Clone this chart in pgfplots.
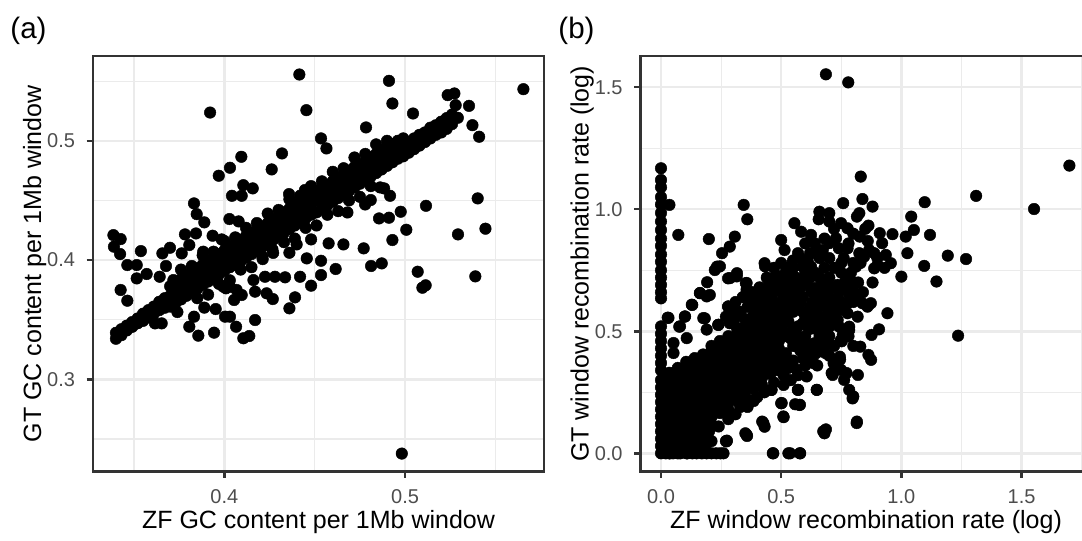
\documentclass[border=0pt]{standalone}
\usepackage{fontspec}
\setmainfont{Liberation Sans}
\usepackage{pgfplots}
\pgfplotsset{compat=1.18}
\definecolor{gridcol}{HTML}{EBEBEB}
\definecolor{bordercol}{HTML}{333333}
\definecolor{ticklab}{HTML}{4D4D4D}
\pgfplotsset{gg/.style={
  scale only axis, width=198.44pt, height=182.9pt, anchor=south west,
  axis line style={draw=bordercol, line width=1.07pt},
  tick style={draw=bordercol, line width=1.07pt},
  major tick length=2.75pt, minor tick length=0pt, tick align=outside,
  xtick pos=bottom, ytick pos=left,
  grid=both,
  major grid style={draw=gridcol, line width=1.07pt},
  minor grid style={draw=gridcol, line width=0.53pt},
  ticklabel style={font=\fontsize{8.8}{10}\selectfont, text=ticklab},
  xticklabel style={anchor=base, inner sep=0pt, yshift=-11.4pt},
  yticklabel style={anchor=east, inner sep=0pt, xshift=-4.95pt},
}}
\tikzset{dots/.style={only marks, mark=*, mark size=2.55pt, black, mark options={draw=black, fill=black, line width=0.2pt}}}
\begin{document}
\begin{tikzpicture}
% ---------------- Panel (a) ----------------
\begin{axis}[gg, at={(40.92pt,-207.55pt)},
  xmin=0.3273, xmax=0.5769, ymin=0.2225, ymax=0.5711,
  xtick={0.4,0.5}, xticklabels={0.4,0.5},
  ytick={0.3,0.4,0.5}, yticklabels={0.3,0.4,0.5},
  minor xtick={0.35,0.45,0.55}, minor ytick={0.25,0.35,0.45,0.55}]
\addplot[dots] coordinates {
(0.4415,0.5556) (0.4911,0.5503) (0.5655,0.5433) (0.3921,0.5237) (0.4454,0.5257) (0.4930,0.5313)
(0.5236,0.5383) (0.5273,0.5397) (0.5280,0.5299) (0.5354,0.5293) (0.5292,0.5193) (0.5373,0.5131)
(0.5410,0.5034) (0.5044,0.5229) (0.4784,0.5112) (0.4535,0.5020) (0.4565,0.4936) (0.4319,0.4894)
(0.4094,0.4866) (0.4031,0.4774) (0.3969,0.4707) (0.4262,0.4760) (0.4105,0.4628) (0.4157,0.4601)
(0.4042,0.4539) (0.4096,0.4539) (0.3832,0.4475) (0.3847,0.4385) (0.3889,0.4316) (0.4028,0.4344)
(0.4079,0.4324) (0.4358,0.4553) (0.4446,0.4587) (0.5402,0.4517) (0.5116,0.4455) (0.5445,0.4263)
(0.5293,0.4215) (0.4976,0.4405) (0.5007,0.4254) (0.4930,0.4168) (0.4856,0.4349) (0.4911,0.4355)
(0.4779,0.4466) (0.4810,0.4503) (0.4862,0.4609) (0.4917,0.4539) (0.4884,0.4601) (0.4681,0.4399)
(0.4771,0.4098) (0.4812,0.3950) (0.4871,0.3972) (0.5070,0.3902) (0.5096,0.3768) (0.5114,0.3788)
(0.5389,0.3863) (0.4982,0.2377) (0.4659,0.4131) (0.4577,0.4140) (0.4616,0.3925) (0.4535,0.3994)
(0.4535,0.3874) (0.4480,0.4173) (0.4456,0.4014) (0.4400,0.4131) (0.4360,0.4061) (0.4480,0.3785)
(0.4419,0.3860) (0.4391,0.3687) (0.4360,0.3595) (0.4268,0.3673) (0.4234,0.3721) (0.4170,0.3735)
(0.4336,0.3855) (0.4280,0.3860) (0.4225,0.3860) (0.4170,0.3497) (0.4138,0.3363) (0.4105,0.3344)
(0.4065,0.3441) (0.4031,0.3525) (0.4004,0.3525) (0.3943,0.3391) (0.3856,0.3366) (0.3806,0.3441)
(0.3832,0.3525) (0.3889,0.3601) (0.3952,0.3589) (0.4054,0.3665) (0.4096,0.3707) (0.3740,0.3564)
(0.3653,0.3469) (0.3616,0.3469) (0.3426,0.3749) (0.3463,0.3659) (0.3386,0.4209) (0.3426,0.4176)
(0.3389,0.4112) (0.3423,0.4050) (0.3463,0.3958) (0.3515,0.3958) (0.3515,0.3846) (0.3570,0.3883)
(0.3538,0.4075) (0.3657,0.4056) (0.3699,0.4103) (0.3764,0.4056) (0.3806,0.4126) (0.3782,0.4215)
(0.3843,0.4223) (0.3883,0.4070) (0.3935,0.4204) (0.3985,0.4173) (0.3677,0.3950) (0.3642,0.3860)
(0.3718,0.3832) (0.3760,0.3754) (0.3892,0.3860) (0.3958,0.3832) (0.3994,0.3777) (0.4009,0.3763)
(0.4031,0.3777) (0.4068,0.3749) (0.4212,0.4008) (0.4266,0.4089) (0.4161,0.3832) (0.4013,0.3986)
(0.340,0.334) (0.340,0.339) (0.343,0.337) (0.343,0.342) (0.346,0.341) (0.346,0.345)
(0.349,0.344) (0.349,0.348) (0.352,0.347) (0.352,0.351) (0.355,0.349) (0.355,0.355)
(0.358,0.352) (0.358,0.358) (0.361,0.355) (0.361,0.361) (0.364,0.358) (0.364,0.365)
(0.367,0.360) (0.367,0.368)
(0.370,0.361) (0.370,0.370) (0.370,0.378) (0.373,0.364) (0.373,0.372) (0.373,0.381)
(0.376,0.367) (0.376,0.375) (0.376,0.384) (0.379,0.370) (0.379,0.378) (0.379,0.387)
(0.382,0.373) (0.382,0.381) (0.382,0.390) (0.385,0.376) (0.385,0.384) (0.385,0.393)
(0.388,0.379) (0.388,0.387) (0.388,0.396) (0.391,0.382) (0.391,0.390) (0.391,0.399)
(0.394,0.385) (0.394,0.393) (0.394,0.402) (0.397,0.388) (0.397,0.396) (0.397,0.405)
(0.400,0.391) (0.400,0.399) (0.400,0.408) (0.403,0.394) (0.403,0.402) (0.403,0.411)
(0.406,0.396) (0.406,0.405) (0.406,0.414) (0.409,0.399) (0.409,0.408) (0.409,0.417)
(0.412,0.402) (0.412,0.411) (0.412,0.420) (0.415,0.405) (0.415,0.414) (0.415,0.423)
(0.418,0.408) (0.418,0.417) (0.418,0.425) (0.421,0.411) (0.421,0.420) (0.421,0.428)
(0.424,0.414) (0.424,0.423) (0.424,0.431) (0.427,0.417) (0.427,0.426) (0.427,0.434)
(0.430,0.420) (0.430,0.429) (0.430,0.437) (0.433,0.423) (0.433,0.432) (0.433,0.440)
(0.436,0.426) (0.436,0.435) (0.436,0.443) (0.439,0.429) (0.439,0.438) (0.439,0.446)
(0.442,0.432) (0.442,0.441) (0.442,0.449) (0.445,0.435) (0.445,0.444) (0.445,0.452)
(0.448,0.438) (0.448,0.447) (0.448,0.455) (0.451,0.440) (0.451,0.450) (0.451,0.458)
(0.454,0.443) (0.454,0.452) (0.454,0.461) (0.457,0.446) (0.457,0.455) (0.457,0.463)
(0.460,0.449) (0.460,0.458) (0.460,0.466) (0.463,0.452) (0.463,0.461) (0.463,0.469)
(0.466,0.455) (0.466,0.464) (0.466,0.472) (0.469,0.458) (0.469,0.467) (0.469,0.475)
(0.472,0.461) (0.472,0.470) (0.472,0.478) (0.475,0.464) (0.475,0.473) (0.475,0.480)
(0.478,0.467) (0.478,0.476) (0.478,0.483) (0.481,0.470) (0.481,0.478) (0.481,0.486)
(0.484,0.473) (0.484,0.481) (0.484,0.489) (0.487,0.476) (0.487,0.484) (0.487,0.492)
(0.490,0.479) (0.490,0.487) (0.490,0.495) (0.493,0.482) (0.493,0.490) (0.493,0.497)
(0.496,0.485) (0.496,0.492) (0.496,0.500) (0.499,0.487) (0.499,0.495) (0.499,0.502)
(0.502,0.490) (0.502,0.499) (0.505,0.493) (0.505,0.502) (0.508,0.496) (0.508,0.505)
(0.511,0.499) (0.511,0.507) (0.514,0.502) (0.514,0.511) (0.517,0.505) (0.517,0.513)
(0.520,0.507) (0.520,0.516) (0.523,0.510) (0.523,0.519) (0.526,0.514) (0.526,0.522)
(0.376,0.392) (0.382,0.395) (0.388,0.404) (0.394,0.407) (0.400,0.416) (0.406,0.419)
(0.412,0.427) (0.418,0.431) (0.424,0.439) (0.430,0.442) (0.436,0.451) (0.442,0.454)
(0.448,0.462) (0.454,0.466) (0.460,0.474) (0.466,0.477) (0.472,0.486) (0.478,0.489)
(0.484,0.497) (0.490,0.500)
(0.385,0.368) (0.391,0.371) (0.397,0.380) (0.403,0.383) (0.409,0.392) (0.415,0.394)
(0.421,0.403) (0.427,0.406) (0.433,0.415) (0.439,0.418) (0.445,0.427) (0.451,0.429)
(0.457,0.438) (0.463,0.441) (0.469,0.450) (0.475,0.453) (0.481,0.462)
};
\draw[bordercol, line width=1.07pt] (rel axis cs:0,0) rectangle (rel axis cs:1,1);
\end{axis}
% ---------------- Panel (b) ----------------
\begin{axis}[gg, at={(281.82pt,-207.55pt)},
  xmin=-0.0853, xmax=1.791, ymin=-0.0754, ymax=1.628,
  xtick={0,0.5,1,1.5}, xticklabels={0.0,0.5,1.0,1.5},
  ytick={0,0.5,1,1.5}, yticklabels={0.0,0.5,1.0,1.5},
  minor xtick={0.25,0.75,1.25,1.75}, minor ytick={0.25,0.75,1.25}]
\addplot[dots] coordinates {
(0.686,1.553) (0.779,1.520) (1.699,1.179) (0.831,1.134) (1.311,1.055) (1.552,1.001) (1.097,1.029)
(1.236,0.482) (1.269,0.796) (1.193,0.810) (1.146,0.704) (1.095,0.768) (1.000,0.724) (1.119,0.895)
(1.041,0.970) (1.052,0.915) (1.018,0.888) (1.025,0.820) (0.963,0.898) (0.942,0.574) (0.907,0.508)
(0.876,0.485) (0.863,0.403) (0.874,0.383) (0.829,0.437) (0.815,0.130) (0.680,0.082) (0.686,0.098)
(0.819,0.321) (0.797,0.225) (0.783,0.260) (0.762,0.301) (0.749,0.342) (0.714,0.321) (0.744,0.396)
(0.747,0.462) (0.718,0.369) (0.465,0.000) (0.530,0.000) (0.579,0.000) (0.510,0.148) (0.500,0.205)
(0.576,0.198) (0.558,0.201) (0.569,0.260) (0.648,0.260) (0.593,0.389) (0.459,0.260) (0.421,0.130)
(0.431,0.109) (0.351,0.082) (0.358,0.071) (0.385,0.214) (0.274,0.052) (0.186,0.034) (0.169,0.116)
(0.203,0.157) (0.247,0.000) (0.210,0.000) (0.148,0.000) (0.106,0.000) (0.037,0.000)
(0,1.168) (0,1.120) (0,1.090) (0,1.050) (0,1.020) (0,0.985) (0,0.950) (0,0.915) (0,0.880) (0,0.850)
(0,0.815) (0,0.785) (0,0.750) (0,0.720) (0,0.690) (0,0.660) (0,0.635) (0,0.520) (0,0.490) (0,0.460)
(0,0.430) (0,0.400) (0,0.370) (0,0.340) (0.035,1.018) (0.072,0.895) (0.028,0.556)
(0.344,1.018) (0.359,0.959) (0.199,0.878) (0.307,0.888) (0.286,0.847) (0.254,0.820) (0.233,0.765)
(0.224,0.751) (0.192,0.701) (0.203,0.649) (0.162,0.656) (0.130,0.608) (0.099,0.560) (0.076,0.519)
(0.182,0.553) (0.238,0.526) (0.279,0.601) (0.316,0.738) (0.279,0.717) (0.353,0.697) (0.389,0.645)
(0.431,0.779) (0.500,0.874) (0.514,0.833) (0.549,0.790) (0.555,0.943) (0.583,0.908) (0.624,0.895)
(0.659,0.990) (0.700,0.984) (0.656,0.959) (0.758,1.025) (0.838,1.042) (0.880,1.011) (0.815,0.970)
(0.825,0.984) (0.749,0.943) (0.776,0.922) (0.863,0.933) (0.827,0.888) (0.910,0.902) (0.920,0.861)
(0.887,0.820) (0.935,0.813) (0.956,0.779) (0.901,0.772) (0.887,0.758) (0.866,0.833) (0.845,0.806)
(0.811,0.765) (0.825,0.820) (0.776,0.840) (0.728,0.881) (0.700,0.861) (0.673,0.833) (0.642,0.820)
(0.624,0.765) (0.590,0.765) (0.597,0.704) (0.645,0.676) (0.686,0.676) (0.735,0.690) (0.769,0.710)
(0.797,0.676) (0.811,0.642) (0.838,0.615) (0.873,0.615) (0.859,0.601) (0.776,0.615) (0.742,0.628)
(0.707,0.635) (0.673,0.628) (0.659,0.669) (0.624,0.669) (0.700,0.560) (0.735,0.546) (0.776,0.574)
(0.700,0.519) (0.783,0.519) (0.624,0.560) (0.521,0.751) (0.541,0.710) (0.569,0.615) (0.500,0.622)
(0.465,0.669) (0.441,0.642) (0.480,0.594) (0.521,0.560) (0.549,0.505) (0.507,0.478) (0.562,0.478)
(0.590,0.533) (0.659,0.492) (0.638,0.451) (0.680,0.464) (0.645,0.410) (0.597,0.430) (0.756,0.485)
(0.783,0.505) (0.818,0.560) (0.700,0.451) (0.403,0.492) (0.355,0.519) (0.314,0.560) (0.286,0.533)
(0.523,0.493) (0.564,0.438) (0.592,0.390) (0.634,0.370) (0.606,0.315) (0.564,0.343) (0.523,0.370)
(0.661,0.452) (0.684,0.411) (0.634,0.513) (0.627,0.554) (0.689,0.602) (0.634,0.677) (0.689,0.684)
(0.745,0.684) (0.786,0.643) (0.745,0.588) (0.731,0.548) (0.752,0.459) (0.745,0.384) (0.772,0.329)
(0.800,0.233) (0.814,0.124) (0.710,0.329) (0.648,0.260) (0.571,0.260) (0.502,0.206) (0.509,0.151)
(0.460,0.260) (0.384,0.219) (0.426,0.124) (0.578,0.199) (0.273,0.049) (0.356,0.076) (0.675,0.090)
(0.467,0.000) (0.537,0.000) (0.578,0.000) (0.370,0.630) (0.391,0.507) (0.495,0.725) (0.537,0.766)
(0.280,0.602) (0.239,0.527) (0.176,0.554) (0.128,0.609) (0.100,0.561) (0.031,0.555) (0.079,0.520)
(0.052,0.452) (0.052,0.411) (0.107,0.472) (0.190,0.507) (0.190,0.643) (0.162,0.657) (0.245,0.766)
(0.287,0.718) (0.315,0.725) (0.356,0.698) (0.356,0.671) (0.433,0.766) (0.391,0.643)
(0.55,0.70) (0.58,0.68) (0.60,0.74) (0.62,0.72) (0.66,0.72) (0.70,0.72) (0.72,0.76) (0.75,0.74)
(0.52,0.66) (0.55,0.64) (0.58,0.62) (0.62,0.60) (0.64,0.58) (0.66,0.64) (0.70,0.60) (0.52,0.60)
(0.55,0.58) (0.60,0.56) (0.57,0.52) (0.53,0.54) (0.51,0.50) (0.54,0.47) (0.60,0.48) (0.62,0.51)
(0.66,0.54) (0.68,0.52) (0.72,0.58) (0.78,0.66) (0.80,0.70) (0.76,0.80) (0.80,0.78) (0.74,0.84)
(0.70,0.80) (0.66,0.80) (0.62,0.82) (0.58,0.80) (0.55,0.76) (0.51,0.72) (0.49,0.69) (0.47,0.72)
(0.45,0.70) (0.44,0.67) (0.42,0.64) (0.46,0.62) (0.50,0.58) (0.48,0.55) (0.52,0.56)
(0.46,0.64) (0.46,0.68) (0.47,0.76) (0.50,0.66) (0.50,0.70) (0.50,0.78) (0.53,0.62) (0.53,0.68)
(0.53,0.74) (0.56,0.60) (0.56,0.66) (0.56,0.72) (0.57,0.82) (0.59,0.58) (0.59,0.64) (0.60,0.70)
(0.61,0.79) (0.63,0.62) (0.63,0.66) (0.64,0.74) (0.66,0.60) (0.67,0.70) (0.68,0.76) (0.69,0.64)
(0.71,0.68) (0.72,0.62) (0.74,0.66) (0.75,0.78) (0.77,0.70) (0.79,0.74) (0.80,0.62) (0.82,0.70)
(0.83,0.78) (0.84,0.66) (0.78,0.86) (0.80,0.90) (0.72,0.92) (0.68,0.88) (0.64,0.86) (0.60,0.86)
(0.70,0.95) (0.85,0.92) (0.86,0.87) (0.90,0.80) (0.93,0.76) (0.88,0.70)
(0.33,0.58) (0.36,0.60) (0.38,0.62) (0.40,0.60) (0.41,0.68) (0.43,0.62) (0.44,0.72) (0.38,0.66)
(0.34,0.64) (0.30,0.58) (0.27,0.56) (0.31,0.62)
(0.51,0.28) (0.54,0.30) (0.57,0.32) (0.60,0.36) (0.62,0.40) (0.65,0.36) (0.67,0.42) (0.70,0.40)
(0.72,0.44) (0.66,0.48) (0.70,0.48) (0.74,0.52) (0.78,0.48) (0.80,0.44) (0.58,0.46) (0.56,0.50)
(0.61,0.52) (0.64,0.54) (0.68,0.56)
(0,0) (0,0.03) (0,0.06) (0,0.09) (0,0.12) (0,0.15) (0,0.18) (0,0.21) (0,0.24) (0,0.27) (0,0.30)
(0.035,0) (0.035,0.015) (0.035,0.045) (0.035,0.075) (0.035,0.105) (0.035,0.135) (0.035,0.165)
(0.035,0.195) (0.035,0.225) (0.035,0.255) (0.035,0.285) (0.035,0.315) (0.035,0.33)
(0.07,0) (0.07,0.03) (0.07,0.06) (0.07,0.09) (0.07,0.12) (0.07,0.15) (0.07,0.18) (0.07,0.21)
(0.07,0.24) (0.07,0.27) (0.07,0.30) (0.07,0.33) (0.07,0.35)
(0.105,0.045) (0.105,0.075) (0.105,0.105) (0.105,0.135) (0.105,0.165) (0.105,0.195) (0.105,0.225)
(0.105,0.255) (0.105,0.285) (0.105,0.315) (0.105,0.345) (0.105,0.375)
(0.14,0.06) (0.14,0.09) (0.14,0.12) (0.14,0.15) (0.14,0.18) (0.14,0.21) (0.14,0.24) (0.14,0.27)
(0.14,0.30) (0.14,0.33) (0.14,0.36) (0.14,0.39)
(0.175,0.105) (0.175,0.135) (0.175,0.165) (0.175,0.195) (0.175,0.225) (0.175,0.255) (0.175,0.285)
(0.175,0.315) (0.175,0.345) (0.175,0.375) (0.175,0.405)
(0.21,0.12) (0.21,0.15) (0.21,0.18) (0.21,0.21) (0.21,0.24) (0.21,0.27) (0.21,0.30) (0.21,0.33)
(0.21,0.36) (0.21,0.39) (0.21,0.42) (0.21,0.44)
(0.245,0.165) (0.245,0.195) (0.245,0.225) (0.245,0.255) (0.245,0.285) (0.245,0.315) (0.245,0.345)
(0.245,0.375) (0.245,0.405) (0.245,0.435) (0.245,0.46)
(0.28,0.18) (0.28,0.21) (0.28,0.24) (0.28,0.27) (0.28,0.30) (0.28,0.33) (0.28,0.36) (0.28,0.39)
(0.28,0.42) (0.28,0.45) (0.28,0.48)
(0.315,0.215) (0.315,0.245) (0.315,0.275) (0.315,0.305) (0.315,0.335) (0.315,0.365) (0.315,0.395)
(0.315,0.425) (0.315,0.455) (0.315,0.485) (0.315,0.515)
(0.35,0.22) (0.35,0.25) (0.35,0.28) (0.35,0.31) (0.35,0.34) (0.35,0.37) (0.35,0.40) (0.35,0.43)
(0.35,0.46) (0.35,0.49) (0.35,0.52) (0.35,0.55)
(0.385,0.265) (0.385,0.295) (0.385,0.325) (0.385,0.355) (0.385,0.385) (0.385,0.415) (0.385,0.445)
(0.385,0.475) (0.385,0.505) (0.385,0.535) (0.385,0.565)
(0.42,0.28) (0.42,0.31) (0.42,0.34) (0.42,0.37) (0.42,0.40) (0.42,0.43) (0.42,0.46) (0.42,0.49)
(0.42,0.52) (0.42,0.55) (0.42,0.58)
(0.455,0.325) (0.455,0.355) (0.455,0.385) (0.455,0.415) (0.455,0.445) (0.455,0.475) (0.455,0.505)
(0.455,0.535) (0.455,0.565) (0.455,0.595)
(0.49,0.34) (0.49,0.37) (0.49,0.40) (0.49,0.43) (0.49,0.46) (0.49,0.49) (0.49,0.52) (0.49,0.55)
(0.49,0.58) (0.49,0.61)
(0.02,0) (0.05,0) (0.08,0) (0.11,0) (0.13,0) (0.17,0) (0.19,0) (0.23,0) (0.26,0)
(0.10,0.03) (0.13,0.03) (0.16,0.04) (0.19,0.06) (0.15,0.05) (0.21,0.05) (0.27,0.05) (0.17,0.08)
(0.20,0.09) (0.24,0.11) (0.28,0.14) (0.31,0.16) (0.33,0.19) (0.36,0.19) (0.40,0.23) (0.43,0.25)
(0.47,0.29) (0.51,0.32) (0.53,0.35) (0.55,0.38) (0.52,0.41) (0.55,0.44) (0.58,0.42) (0.60,0.45)
(0.63,0.42)
};
\draw[bordercol, line width=1.07pt] (rel axis cs:0,0) rectangle (rel axis cs:1,1);
\end{axis}
% ---------------- titles ----------------
\node[anchor=west, inner sep=0pt, font=\fontsize{13}{15}\selectfont] at (4.4pt,-13.64pt) {(a)};
\node[anchor=west, inner sep=0pt, font=\fontsize{13}{15}\selectfont] at (245.52pt,-13.64pt) {(b)};
\node[anchor=base, inner sep=0pt, font=\fontsize{11}{13}\selectfont] at (140.14pt,-232.32pt) {ZF GC content per 1Mb window};
\node[anchor=base, inner sep=0pt, font=\fontsize{11}{13}\selectfont] at (381.04pt,-232.32pt) {ZF window recombination rate (log)};
\node[anchor=base, rotate=90, inner sep=0pt, font=\fontsize{11}{13}\selectfont] at (18.04pt,-116.09pt) {GT GC content per 1Mb window};
\node[anchor=base, rotate=90, inner sep=0pt, font=\fontsize{11}{13}\selectfont] at (258.94pt,-116.09pt) {GT window recombination rate (log)};
\pgfresetboundingbox
\useasboundingbox (0pt,0pt) rectangle (476.08pt,-238.04pt);
\end{tikzpicture}
\end{document}
